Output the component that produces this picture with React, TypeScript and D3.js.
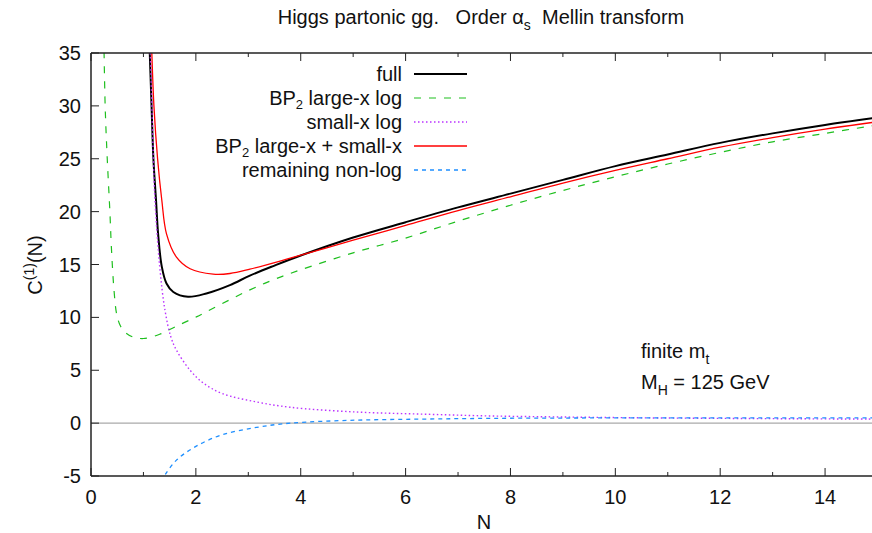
import React from "react";
import * as d3 from "d3";

// values
const fullN = [1.1, 1.155, 1.19, 1.24, 1.28, 1.35, 1.44, 1.57, 1.85, 2.2, 2.65, 3.03, 3.5, 4, 5, 6, 7, 8, 9, 10, 11, 12, 13, 14, 15];
const fullC = [38, 30, 25, 21.1, 17.9, 14.8, 13.2, 12.4, 11.95, 12.26, 13.05, 13.95, 14.9, 15.85, 17.55, 19.0, 20.4, 21.7, 23.0, 24.3, 25.4, 26.5, 27.4, 28.2, 28.9];

const largeN = [0.24, 0.27, 0.31, 0.36, 0.39, 0.44, 0.49, 0.56, 0.66, 0.8, 1.0, 1.31, 1.6, 2.01, 2.5, 3.03, 3.5, 4, 5, 6, 7, 8, 9, 10, 11, 12, 13, 14, 15];
const largeC = [38, 30, 25, 20, 16.5, 12.5, 10.3, 9.2, 8.55, 8.15, 8.0, 8.4, 9.1, 10.05, 11.3, 12.6, 13.6, 14.5, 16.1, 17.5, 19.1, 20.6, 22.0, 23.3, 24.5, 25.6, 26.6, 27.4, 28.2];

const smallN = [1.1, 1.13, 1.16, 1.19, 1.22, 1.31, 1.41, 1.52, 1.63, 1.89, 2.14, 2.5, 3.16, 3.8, 5.06, 6.33, 7.6, 9, 10.5, 12, 13.5, 15];
const smallC = [38, 35, 30, 25, 21.1, 14.8, 10.7, 8.2, 6.9, 5.0, 3.8, 2.8, 2.0, 1.5, 1.05, 0.85, 0.68, 0.58, 0.5, 0.45, 0.41, 0.38];

const sumN = [1.14, 1.16, 1.2, 1.27, 1.35, 1.44, 1.63, 1.89, 2.33, 2.65, 3.03, 3.8, 5, 6, 7, 8, 9, 10, 11, 12, 13, 14, 15];
const sumC = [38, 35, 30, 25, 21.1, 17.9, 15.7, 14.6, 14.09, 14.15, 14.56, 15.6, 17.3, 18.7, 20.1, 21.4, 22.7, 23.9, 25.0, 26.1, 27.0, 27.8, 28.5];

const restN = [1.34, 1.41, 1.63, 2.0, 2.5, 3.16, 3.8, 5.06, 6.33, 7.6, 9, 10.5, 12, 13.5, 15];
const restC = [-5.5, -4.9, -3.5, -2.2, -1.1, -0.4, 0, 0.28, 0.38, 0.45, 0.48, 0.5, 0.5, 0.5, 0.5];

const xTicks = [0, 2, 4, 6, 8, 10, 12, 14];
const xMinor = [1, 3, 5, 7, 9, 11, 13, 15];
const yTicks = [-5, 0, 5, 10, 15, 20, 25, 30, 35];

const font = "'Liberation Sans', Arial, sans-serif";

const series = [
  { key: "full", n: fullN, c: fullC, color: "#000000", width: 2, dash: "" },
  { key: "large", n: largeN, c: largeC, color: "#1fbf1f", width: 1.2, dash: "7,8" },
  { key: "small", n: smallN, c: smallC, color: "#bb33ff", width: 1.4, dash: "1.5,2.5" },
  { key: "sum", n: sumN, c: sumC, color: "#ff0000", width: 1.3, dash: "" },
  { key: "rest", n: restN, c: restC, color: "#1e8fff", width: 1.3, dash: "4,4" },
];

export default function App() {
  const width = 872;
  const height = 533;
  const left = 91, right = 877.5, top = 53, bottom = 476;

  const x = d3.scaleLinear().domain([0, 15]).range([left, right]);
  const y = d3.scaleLinear().domain([-5, 35]).range([bottom, top]);

  const line = d3.line<[number, number]>()
    .x(d => x(d[0]))
    .y(d => y(d[1]))
    .curve(d3.curveCatmullRom.alpha(0.5));

  const legendLabels: React.ReactNode[] = [
    "full",
    <>BP<tspan dy="4" fontSize="13">2</tspan><tspan dy="-4"> large-x log</tspan></>,
    "small-x log",
    <>BP<tspan dy="4" fontSize="13">2</tspan><tspan dy="-4"> large-x + small-x</tspan></>,
    "remaining non-log",
  ];

  return (
    <svg width={width} height={height} style={{ position: "absolute", left: 0, top: 0, background: "#fff" }} fontFamily={font}>
      <defs>
        <clipPath id="plot">
          <rect x={left} y={top} width={right - left} height={bottom - top} />
        </clipPath>
      </defs>

      {/* title */}
      <text x={481} y={24} textAnchor="middle" fontSize={20} fill="#111">
        Higgs partonic gg.{"\u00a0\u00a0\u00a0"}Order α<tspan dy="6" fontSize="14">s</tspan><tspan dy="-6">{"\u00a0\u00a0"}Mellin transform</tspan>
      </text>

      {/* zero line */}
      <line x1={left} x2={right} y1={y(0)} y2={y(0)} stroke="#aaa" strokeWidth={1.2} />

      {/* curves */}
      <g clipPath="url(#plot)">
        {series.map(s => (
          <path key={s.key}
            d={line(s.n.map((v, i) => [v, s.c[i]] as [number, number])) || ""}
            fill="none" stroke={s.color} strokeWidth={s.width} strokeDasharray={s.dash} />
        ))}
      </g>

      {/* frame */}
      <g stroke="#222" strokeWidth={1.5} fill="none">
        <line x1={left} x2={left} y1={top} y2={bottom} />
        <line x1={left} x2={width} y1={bottom} y2={bottom} />
        <line x1={left} x2={width} y1={top} y2={top} />
      </g>

      {/* ticks */}
      <g stroke="#222" strokeWidth={1}>
        {xTicks.map(t => (
          <g key={"xt" + t}>
            <line x1={x(t)} x2={x(t)} y1={bottom} y2={bottom - 8} />
            <line x1={x(t)} x2={x(t)} y1={top} y2={top + 8} />
          </g>
        ))}
        {xMinor.map(t => (
          <g key={"xm" + t}>
            <line x1={x(t)} x2={x(t)} y1={bottom} y2={bottom - 4} />
            <line x1={x(t)} x2={x(t)} y1={top} y2={top + 4} />
          </g>
        ))}
        {yTicks.map(t => (
          <line key={"yt" + t} x1={left} x2={left + 8} y1={y(t)} y2={y(t)} />
        ))}
      </g>

      {/* tick labels */}
      <g fontSize={20} fill="#111">
        {xTicks.map(t => (
          <text key={"xl" + t} x={x(t)} y={504} textAnchor="middle">{t}</text>
        ))}
        {yTicks.map(t => (
          <text key={"yl" + t} x={81} y={y(t) + 7} textAnchor="end">{t}</text>
        ))}
      </g>

      {/* axis titles */}
      <text x={484} y={529} textAnchor="middle" fontSize={20} fill="#111">N</text>
      <text transform="translate(42,265) rotate(-90)" textAnchor="middle" fontSize={20} fill="#111">
        C<tspan dy="-8" fontSize="14">(1)</tspan><tspan dy="8">(N)</tspan>
      </text>

      {/* legend */}
      <g fontSize={20} fill="#111">
        {series.map((s, i) => {
          const ly = 74 + i * 24;
          return (
            <g key={"lg" + s.key}>
              <text x={402} y={ly + 7} textAnchor="end">{legendLabels[i]}</text>
              <line x1={414} x2={467} y1={ly} y2={ly} stroke={s.color} strokeWidth={s.width} strokeDasharray={s.dash} />
            </g>
          );
        })}
      </g>

      {/* annotations */}
      <g fontSize={20} fill="#111">
        <text x={641} y={358}>finite m<tspan dy="6" fontSize="14">t</tspan></text>
        <text x={641} y={389}>M<tspan dy="6" fontSize="14">H</tspan><tspan dy="-6"> = 125 GeV</tspan></text>
      </g>
    </svg>
  );
}
